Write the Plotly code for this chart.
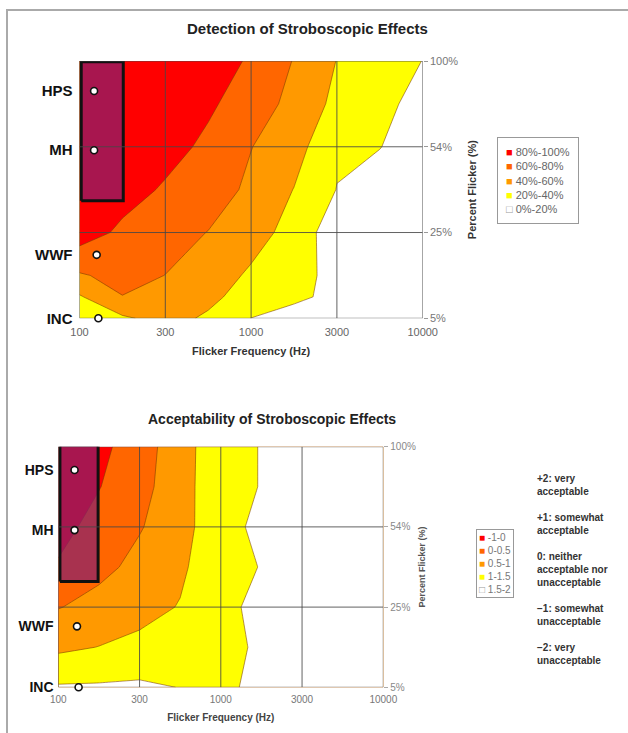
import plotly.graph_objects as go

# ---------------- data ----------------
freq_labels = ['100', '300', '1000', '3000', '10000']      # x categories (equally spaced)
flicker_labels = ['5%', '25%', '54%', '100%']               # y categories (equally spaced)
lamp_names = ['HPS', 'MH', 'WWF', 'INC']

# lamp positions, in category-index units
det_lamp_u = [0.17, 0.17, 0.20, 0.22]
det_lamp_v = [2.65, 1.96, 0.74, 0.0]
acc_lamp_u = [0.20, 0.20, 0.23, 0.25]
acc_lamp_v = [2.71, 1.96, 0.76, 0.0]

# survey grid (category-index units)
grid_u = [0, 0.5, 1, 1.5, 2, 2.5, 3, 3.5, 4]

# Detection of stroboscopic effects (% of observers)
det_v = [0, 0.25, 0.5, 1, 1.5, 2, 2.5, 3]
det_z = [
    [22, 37, 47, 37, 19.8, 12, 6, 3, 1],
    [38, 59.5, 58, 45, 31, 24, 15, 5, 2],
    [58, 66, 59.8, 50, 37, 27, 14, 6, 2],
    [90, 76, 68, 59.5, 48, 33, 8, 5, 3],
    [97, 88, 77.7, 70, 56, 39.5, 19.5, 12, 5],
    [100, 95, 87, 76, 60.5, 48, 23, 20.5, 10],
    [100, 96, 91, 83, 70.5, 54.1, 35, 24, 15],
    [100, 97, 93, 88, 78, 59, 39.5, 30, 19.7],
]
det_levels = ['80%-100%', '60%-80%', '40%-60%', '20%-40%', '0%-20%']

# Acceptability of stroboscopic effects (-2 .. +2 scale)
acc_v = [0, 0.5, 1, 1.5, 2, 2.5, 3]
acc_z = [
    [1.55, 1.56, 1.58, 1.49, 1.45, 1.56, 1.7, 1.8, 1.9],
    [0.9, 1.01, 1.15, 1.3, 1.4, 1.55, 1.7, 1.8, 1.9],
    [0.48, 0.65, 0.8, 1.03, 1.45, 1.55, 1.7, 1.8, 1.9],
    [0.05, 0.38, 0.62, 0.9, 1.4, 1.51, 1.7, 1.8, 1.9],
    [-0.17, 0.18, 0.47, 0.75, 1.45, 1.533, 1.7, 1.8, 1.9],
    [-0.5, -0.02, 0.35, 0.77, 1.4, 1.51, 1.7, 1.8, 1.9],
    [-0.6, -0.15, 0.3, 0.75, 1.4, 1.51, 1.7, 1.8, 1.9],
]
acc_levels = ['-1-0', '0-0.5', '0.5-1', '1-1.5', '1.5-2']
acc_notes = ['+2: very<br>acceptable', '+1: somewhat<br>acceptable',
             '0: neither<br>acceptable nor<br>unacceptable',
             '\u22121: somewhat<br>unacceptable', '\u22122: very<br>unacceptable']

# highlighted region (HPS / MH lamps), category-index units
det_box = (0.02, 0.51, 1.37, 2.99)
acc_box = (0.02, 0.49, 1.32, 3.02)

# ---------------- style ----------------
W, H = 628, 733
FONT = 'Liberation Sans, Arial, sans-serif'
RED, DORANGE, ORANGE, YELLOW, WHITE = '#FF0000', '#FF6600', '#FF9900', '#FFFF00', '#FFFFFF'
GRID = 'rgba(70,70,70,0.85)'


def step_scale(cols):
    n = len(cols)
    sc = []
    for i, c in enumerate(cols):
        a = 0 if i == 0 else (i - 0.5) / (n - 1)
        b = 1 if i == n - 1 else (i + 0.5) / (n - 1)
        sc += [[a, c], [b, c]]
    return sc


def px_x(p):
    return p / W


def px_y(p):
    return 1 - p / H


fig = go.Figure()


def add_panel(xa, ya_pct, ya_lamp, z_v, z, start, end, size, colors, box, lu, lv):
    fig.add_trace(go.Contour(
        x=grid_u, y=z_v, z=z, xaxis=xa, yaxis=ya_pct,
        contours=dict(start=start, end=end, size=size, coloring='fill', showlines=True),
        colorscale=step_scale(colors),
        line=dict(color='rgba(120,60,0,0.7)', width=0.8, smoothing=0),
        showscale=False, hoverinfo='skip'))
    u0, u1, v0, v1 = box
    fig.add_trace(go.Scatter(
        x=[u0, u1, u1, u0, u0], y=[v0, v0, v1, v1, v0], xaxis=xa, yaxis=ya_pct,
        mode='lines', fill='toself', fillcolor='rgba(135,30,110,0.72)',
        line=dict(color='#111', width=3), hoverinfo='skip', showlegend=False))
    nx, ny = len(freq_labels), len(flicker_labels)
    gx, gy = [], []
    for i in range(nx):
        gx += [i, i, None]
        gy += [0, ny - 1, None]
    for j in range(ny):
        gx += [0, nx - 1, None]
        gy += [j, j, None]
    fig.add_trace(go.Scatter(x=gx, y=gy, xaxis=xa, yaxis=ya_pct, mode='lines',
                             line=dict(color=GRID, width=1), hoverinfo='skip', showlegend=False,
                             cliponaxis=False))
    fig.add_trace(go.Scatter(x=lu, y=lv, xaxis=xa, yaxis=ya_lamp, mode='markers', cliponaxis=False,
                             marker=dict(size=7, color='white', line=dict(color='#111', width=1.6)),
                             showlegend=False, hoverinfo='skip'))


add_panel('x', 'y', 'y2', det_v, det_z, 20, 80, 20, [WHITE, YELLOW, ORANGE, DORANGE, RED],
          det_box, det_lamp_u, det_lamp_v)
add_panel('x2', 'y3', 'y4', acc_v, acc_z, 0, 1.5, 0.5, [RED, DORANGE, ORANGE, YELLOW, WHITE],
          acc_box, acc_lamp_u, acc_lamp_v)

shapes = [
    dict(type='line', xref='paper', yref='paper', x0=px_x(6), x1=1, y0=px_y(10), y1=px_y(10),
         line=dict(color='#aaa', width=2)),
    dict(type='line', xref='paper', yref='paper', x0=px_x(7), x1=px_x(7), y0=px_y(10), y1=0,
         line=dict(color='#aaa', width=2)),
]

ann = []
ann.append(dict(text='<b>Detection of Stroboscopic Effects</b>', xref='paper', yref='paper',
                x=px_x(307), y=px_y(28), xanchor='center', yanchor='middle', showarrow=False,
                font=dict(size=15, color='#222', family=FONT)))
ann.append(dict(text='<b>Acceptability of Stroboscopic Effects</b>', xref='paper', yref='paper',
                x=px_x(272), y=px_y(419), xanchor='center', yanchor='middle', showarrow=False,
                font=dict(size=14, color='#222', family=FONT)))


def legend_text(labels, colors):
    rows = []
    for lab, col in zip(labels, colors):
        sq = "<span style='color:#999'>\u25a1</span>" if col == WHITE else f"<span style='color:{col}'>\u25a0</span>"
        rows.append(f'{sq} {lab}')
    return '<br>'.join(rows)


ann.append(dict(text=legend_text(det_levels, [RED, DORANGE, ORANGE, YELLOW, WHITE]), xref='paper', yref='paper',
                x=px_x(497), y=px_y(137), xanchor='left', yanchor='top', align='left', showarrow=False,
                bordercolor='#999', borderwidth=1, borderpad=8, bgcolor='white',
                font=dict(size=11, color='#666', family=FONT)))
ann.append(dict(text=legend_text(acc_levels, [RED, DORANGE, ORANGE, YELLOW, WHITE]), xref='paper', yref='paper',
                x=px_x(476), y=px_y(529), xanchor='left', yanchor='top', align='left', showarrow=False,
                bordercolor='#999', borderwidth=1, borderpad=2, bgcolor='white',
                font=dict(size=10, color='#777', family=FONT)))
ann.append(dict(text='<b>' + '<br><br>'.join(acc_notes) + '</b>', xref='paper', yref='paper',
                x=px_x(535), y=px_y(471), xanchor='left', yanchor='top', align='left', showarrow=False,
                font=dict(size=10, color='#333', family=FONT)))

tick_idx = list(range(len(freq_labels)))
pct_idx = list(range(len(flicker_labels)))
hidden_tick = 'rgba(0,0,0,0)'

fig.update_layout(
    width=W, height=H, margin=dict(l=0, r=0, t=0, b=0), autosize=False,
    paper_bgcolor='white', plot_bgcolor='white', showlegend=False,
    font=dict(family=FONT),
    shapes=shapes, annotations=ann,
    xaxis=dict(domain=[px_x(79.5), px_x(422.7)], range=[0, 4], anchor='y', automargin=False,
               tickvals=tick_idx, ticktext=freq_labels, showgrid=False, zeroline=False,
               ticks='outside', ticklen=3, tickcolor=hidden_tick,
               tickfont=dict(size=11, color='#666'),
               title=dict(text='<b>Flicker Frequency (Hz)</b>', font=dict(size=11, color='#333'), standoff=10)),
    yaxis=dict(domain=[px_y(318.3), px_y(61)], range=[0, 3], anchor='x', side='right', automargin=False,
               tickvals=pct_idx, ticktext=flicker_labels, showgrid=False, zeroline=False,
               ticks='outside', ticklen=4, tickcolor='#999',
               tickfont=dict(size=11, color='#777'),
               title=dict(text='<b>Percent Flicker (%)</b>', font=dict(size=11, color='#333'), standoff=11)),
    yaxis2=dict(overlaying='y', anchor='x', side='left', range=[0, 3], automargin=False,
                tickvals=det_lamp_v, ticktext=lamp_names, showgrid=False, zeroline=False,
                ticks='outside', ticklen=3, tickcolor=hidden_tick,
                tickfont=dict(size=15, color='#111', weight='bold')),
    xaxis2=dict(domain=[px_x(58.3), px_x(383.3)], range=[0, 4], anchor='y3', automargin=False,
                tickvals=tick_idx, ticktext=freq_labels, showgrid=False, zeroline=False,
                ticks='outside', ticklen=3, tickcolor=hidden_tick,
                tickfont=dict(size=10, color='#777'),
                title=dict(text='<b>Flicker Frequency (Hz)</b>', font=dict(size=10, color='#444'), standoff=9)),
    yaxis3=dict(domain=[px_y(687.3), px_y(446.7)], range=[0, 3], anchor='x2', side='right', automargin=False,
                tickvals=pct_idx, ticktext=flicker_labels, showgrid=False, zeroline=False,
                ticks='outside', ticklen=4, tickcolor='#aaa',
                tickfont=dict(size=10, color='#888'),
                title=dict(text='<b>Percent Flicker (%)</b>', font=dict(size=9, color='#555'), standoff=3)),
    yaxis4=dict(overlaying='y3', anchor='x2', side='left', range=[0, 3], automargin=False,
                tickvals=acc_lamp_v, ticktext=lamp_names, showgrid=False, zeroline=False,
                ticks='outside', ticklen=1, tickcolor=hidden_tick,
                tickfont=dict(size=14, color='#111', weight='bold')),
)

# the page's default 8px body margin would offset the fixed-size figure
fig.write_html('out.html', config={'displayModeBar': False},
               post_script="document.body.style.margin='0';")
